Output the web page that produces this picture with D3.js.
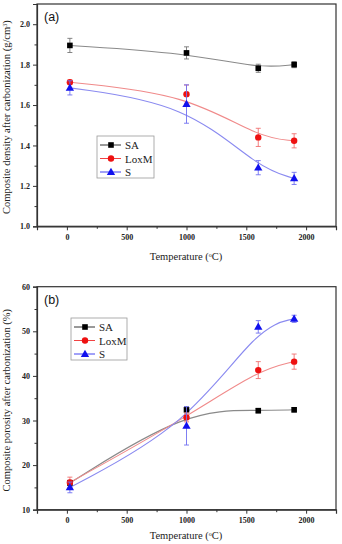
<!DOCTYPE html>
<html><head><meta charset="utf-8">
<script src="https://cdn.jsdelivr.net/npm/d3@7"></script>
<style>body{margin:0;background:#fff}svg{display:block}</style>
</head><body>
<script>
const temps = [25, 1000, 1600, 1900];
const seriesNames = ["SA", "LoxM", "S"];
// Panel (a): density
const densSA = [1.895, 1.858, 1.782, 1.800];
const densSAerr = [0.035, 0.03, 0.02, 0.015];
const densLoxM = [1.713, 1.654, 1.440, 1.423];
const densLoxMerr = [0.01, 0.045, 0.045, 0.035];
const densS = [1.685, 1.605, 1.290, 1.237];
const densSerr = [0.035, 0.095, 0.035, 0.03];
// Panel (b): porosity
const poroSA = [16.0, 32.4, 32.2, 32.4];
const poroSAerr = [0.6, 0.7, 0.5, 0.5];
const poroLoxM = [16.1, 30.7, 41.3, 43.2];
const poroLoxMerr = [1.2, 1.0, 1.9, 1.7];
const poroS = [15.0, 28.8, 51.0, 52.8];
const poroSerr = [1.2, 4.3, 1.4, 0.8];
const xTicks = [0, 500, 1000, 1500, 2000];
const yTicksA = [1.0, 1.2, 1.4, 1.6, 1.8, 2.0];
const yTicksB = [10, 20, 30, 40, 50, 60];

const colors = {SA: "#000", LoxM: "#ee1111", S: "#1111ee"};
const lineColors = {SA: "#8a8a8a", LoxM: "#f08a8a", S: "#8a8af0"};
const errColors = {SA: "#777", LoxM: "#f07070", S: "#7070f0"};

const svg = d3.select("body").append("svg").attr("width", 342).attr("height", 544);
svg.append("rect").attr("width", 342).attr("height", 544).attr("fill", "#fff");

function panel(opt) {
  const x = d3.scaleLinear().domain([-250, 2250]).range([37, 336]);
  const y = d3.scaleLinear().domain(opt.ydom).range(opt.yrange);
  const g = svg.append("g");
  const [y0, y1] = opt.yrange;
  g.append("rect").attr("x", 37).attr("y", y1).attr("width", 299).attr("height", y0 - y1)
    .attr("fill", "none").attr("stroke", "#333").attr("stroke-width", 1.2);
  g.append("g").attr("transform", `translate(0,${y0})`)
    .call(d3.axisBottom(x).tickValues(xTicks).tickFormat(d3.format("d")).tickSize(4).tickPadding(4));
  g.append("g").attr("transform", `translate(0,${y0})`)
    .call(d3.axisBottom(x).tickValues(d3.range(-250, 2251, 250).filter(v => v % 500 !== 0)).tickFormat("").tickSize(2.5))
    .select(".domain").remove();
  g.append("g").attr("transform", `translate(37,0)`)
    .call(d3.axisLeft(y).tickValues(opt.yticks).tickFormat(opt.yfmt).tickSize(4).tickPadding(3));
  g.append("g").attr("transform", `translate(37,0)`)
    .call(d3.axisLeft(y).tickValues(opt.minor).tickFormat("").tickSize(2.5))
    .select(".domain").remove();
  g.selectAll(".domain").attr("stroke", "#333").attr("stroke-width", 1.2);
  g.selectAll(".tick line").attr("stroke", "#333");
  g.selectAll(".tick text").attr("font-family", "Liberation Serif, Times New Roman, serif")
    .attr("font-weight", "bold").attr("font-size", 8).attr("fill", "#222");
  g.append("text").attr("x", 44).attr("y", y1 + 17).attr("font-family", "Liberation Sans, Arial, sans-serif")
    .attr("font-size", 12.5).attr("fill", "#111").text(opt.tag);
  g.append("text").attr("transform", `translate(10,${(y0 + y1) / 2 + 2}) rotate(-90)`)
    .attr("text-anchor", "middle").attr("font-family", "Liberation Serif, Times New Roman, serif")
    .attr("font-size", 10.5).attr("fill", "#222").html(opt.ylabel);
  g.append("text").attr("x", 186).attr("y", Math.min(y0 + 34, 539)).attr("text-anchor", "middle")
    .attr("font-family", "Liberation Serif, Times New Roman, serif").attr("font-size", 10.5).attr("fill", "#222")
    .html('Temperature (<tspan baseline-shift="super" font-size="6">o</tspan>C)');

  const line = d3.line().x((d, i) => x(temps[i])).y(d => y(d)).curve(d3.curveBasis);
  opt.series.forEach(s => {
    g.append("path").datum(s.vals).attr("d", line).attr("fill", "none")
      .attr("stroke", lineColors[s.name]).attr("stroke-width", 1.1);
  });
  opt.series.forEach(s => {
    s.vals.forEach((v, i) => {
      const cx = x(temps[i]);
      const ec = errColors[s.name];
      g.append("line").attr("x1", cx).attr("x2", cx).attr("y1", y(v - s.err[i])).attr("y2", y(v + s.err[i]))
        .attr("stroke", ec).attr("stroke-width", 0.9);
      [v - s.err[i], v + s.err[i]].forEach(e => {
        g.append("line").attr("x1", cx - 2.5).attr("x2", cx + 2.5).attr("y1", y(e)).attr("y2", y(e))
          .attr("stroke", ec).attr("stroke-width", 0.9);
      });
    });
    s.vals.forEach((v, i) => marker(g, s.name, x(temps[i]), y(v)));
  });
  const L = opt.legend;
  g.append("rect").attr("x", L.x).attr("y", L.y).attr("width", L.w).attr("height", L.h)
    .attr("fill", "#fff").attr("stroke", "#999").attr("stroke-width", 0.8);
  seriesNames.forEach((n, k) => {
    const ly = L.y + 9 + k * 13.5;
    g.append("line").attr("x1", L.x + 3).attr("x2", L.x + 24).attr("y1", ly).attr("y2", ly)
      .attr("stroke", colors[n]).attr("stroke-width", 0.8);
    marker(g, n, L.x + 14, ly);
    g.append("text").attr("x", L.x + 28).attr("y", ly + 4).attr("font-family", "Liberation Serif, Times New Roman, serif")
      .attr("font-size", 11).attr("fill", "#222").text(n);
  });
}

function marker(g, name, cx, cy) {
  if (name === "SA") {
    g.append("rect").attr("x", cx - 2.8).attr("y", cy - 2.8).attr("width", 5.6).attr("height", 5.6).attr("fill", colors.SA);
  } else if (name === "LoxM") {
    g.append("circle").attr("cx", cx).attr("cy", cy).attr("r", 3.2).attr("fill", colors.LoxM);
  } else {
    g.append("path").attr("d", d3.symbol(d3.symbolTriangle, 30)()).attr("transform", `translate(${cx},${cy + 0.5})`)
      .attr("fill", colors.S);
  }
}

panel({
  ydom: [1.0, 2.1], yrange: [226.3, 4], yticks: yTicksA, yfmt: d3.format(".1f"),
  minor: [1.1, 1.3, 1.5, 1.7, 1.9], tag: "(a)",
  ylabel: 'Composite density after carbonization (g/cm<tspan baseline-shift="super" font-size="6">3</tspan>)',
  series: [{name: "SA", vals: densSA, err: densSAerr}, {name: "LoxM", vals: densLoxM, err: densLoxMerr}, {name: "S", vals: densS, err: densSerr}],
  legend: {x: 97, y: 136, w: 57, h: 42}
});
panel({
  ydom: [10, 60], yrange: [509.7, 286.7], yticks: yTicksB, yfmt: d3.format("d"),
  minor: [15, 25, 35, 45, 55], tag: "(b)",
  ylabel: 'Composite porosity after carbonization (%)',
  series: [{name: "SA", vals: poroSA, err: poroSAerr}, {name: "LoxM", vals: poroLoxM, err: poroLoxMerr}, {name: "S", vals: poroS, err: poroSerr}],
  legend: {x: 71, y: 318, w: 56, h: 42}
});
</script>
</body></html>
